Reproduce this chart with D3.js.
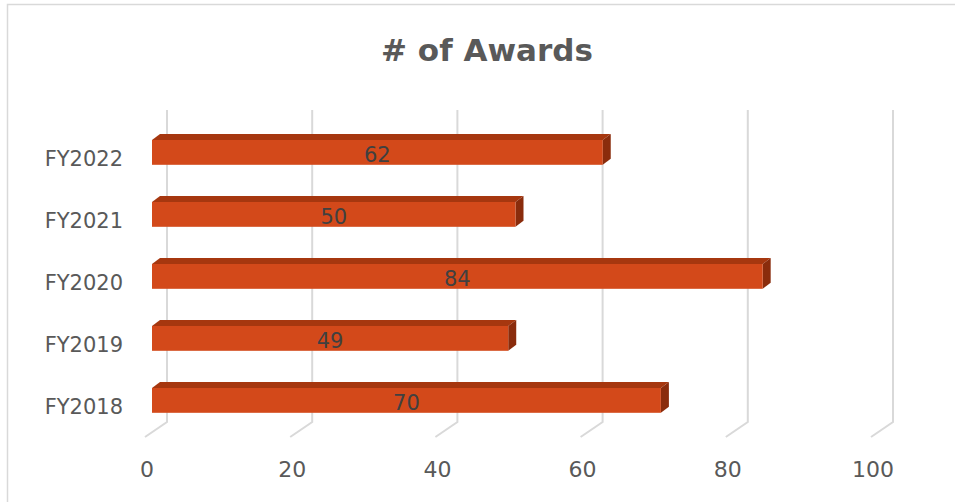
<!DOCTYPE html>
<html><head><meta charset="utf-8">
<script src="https://cdn.jsdelivr.net/npm/d3@7"></script>
<style>body{margin:0;background:#fff}svg{display:block}</style>
</head><body>
<svg id="c" width="955" height="502"></svg>
<script>
const categories = ["FY2022","FY2021","FY2020","FY2019","FY2018"];
const values = [62,50,84,49,70];
const ticks = [0,20,40,60,80,100];
const title = "# of Awards";

const svg = d3.select("#c");
const font = "'DejaVu Sans', sans-serif";
const textCol = "#595959";

svg.append("rect").attr("x",7.5).attr("y",4.5).attr("width",960).attr("height",520)
  .attr("fill","#fff").attr("stroke","#d9d9d9").attr("stroke-width",1.5);

const xFront = d3.scaleLinear().domain([0,100]).range([152,879]);
const xBack = d3.scaleLinear().domain([0,100]).range([167,893]);
const y = d3.scaleBand().domain(categories).range([121.4,431.4]).paddingInner(0.6).paddingOuter(0.3);
const gridTop = 110, gridBottom = 422, floorDx = -22, floorDy = 15;

// gridlines
const g = svg.append("g");
ticks.forEach(t => {
  const xb = xBack(t);
  g.append("path")
    .attr("d", `M${xb},${gridTop}V${gridBottom}L${xb+floorDx},${gridBottom+floorDy}`)
    .attr("fill","none").attr("stroke","#d9d9d9").attr("stroke-width",2);
  g.append("text").attr("x", xb-20).attr("y", 477).attr("text-anchor","middle")
    .attr("font-family",font).attr("font-size",22).attr("fill",textCol).text(t);
});

// bars
const dx = 8, dy = -6;
const bars = svg.append("g");
categories.forEach((c,i) => {
  const x0 = xFront(0), x1 = xFront(values[i]), yt = y(c), h = y.bandwidth();
  bars.append("path")
    .attr("d", `M${x0},${yt}L${x0+dx},${yt+dy}H${x1+dx}L${x1},${yt}Z`)
    .attr("fill","#A6370F");
  bars.append("path")
    .attr("d", `M${x1},${yt}L${x1+dx},${yt+dy}V${yt+h+dy}L${x1},${yt+h}Z`)
    .attr("fill","#8A2C0C");
  bars.append("rect").attr("x",x0).attr("y",yt).attr("width",x1-x0).attr("height",h)
    .attr("fill","#D3491A");
  bars.append("text").attr("x",(x0+x1)/2).attr("y",yt+h/2+10).attr("text-anchor","middle")
    .attr("font-family",font).attr("font-size",21).attr("fill","#404040").text(values[i]);
  svg.append("text").attr("x",123).attr("y",yt+h/2+14).attr("text-anchor","end")
    .attr("font-family",font).attr("font-size",21).attr("fill",textCol).text(c);
});

svg.append("text").attr("x",487).attr("y",61).attr("text-anchor","middle")
  .attr("font-family","'DejaVu Sans', sans-serif").attr("font-weight","bold")
  .attr("font-size",31).attr("fill",textCol).text(title);
</script>
</body></html>
